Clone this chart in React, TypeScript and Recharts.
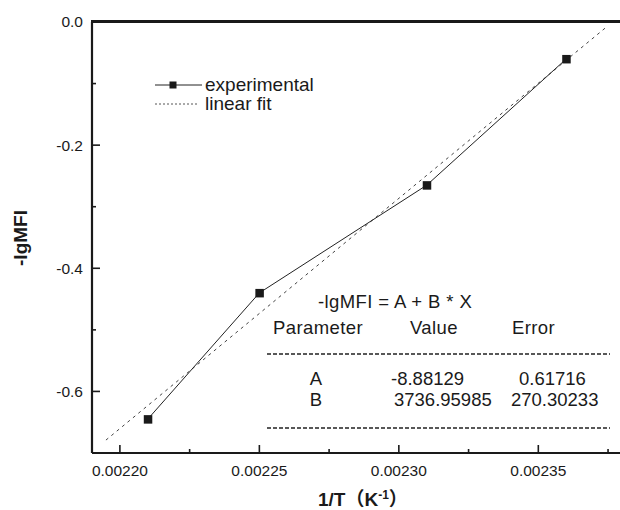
import React from 'react';
import { ComposedChart, Line, XAxis, YAxis } from 'recharts';

const expX = [0.00221, 0.00225, 0.00231, 0.00236];
const expY = [-0.645, -0.44, -0.265, -0.06];
const fitX = [0.002195, 0.002375];
const fitY = [-0.679, -0.006];
const xMajorTicks = [0.0022, 0.00225, 0.0023, 0.00235];
const xMinorTicks = [0.002225, 0.002275, 0.002325, 0.002375];
const yMajorTicks = [0, -0.2, -0.4, -0.6];
const yMinorTicks = [-0.1, -0.3, -0.5, -0.7];
const tableParams = ['A', 'B'];
const tableValues = ['-8.88129', '3736.95985'];
const tableErrors = ['0.61716', '270.30233'];

const expData = expX.map((x, i) => ({ x, y: expY[i] }));
const fitData = fitX.map((x, i) => ({ x, y: fitY[i] }));

const FONT = '"Liberation Sans", Arial, Helvetica, sans-serif';
const INK = '#1a1a1a';

const isIn = (arr: number[], v: number) => arr.some((a) => Math.abs(a - v) < 1e-9);

const XTick = (props: any) => {
  const { x, y, payload } = props;
  const major = isIn(xMajorTicks, payload.value);
  return (
    <g>
      <line x1={x} y1={y} x2={x} y2={y - (major ? 8 : 4)} stroke={INK} strokeWidth={1.6} />
      {major && (
        <text x={x} y={y + 23} textAnchor="middle" fontSize={15.5} fontFamily={FONT} fill={INK}>
          {payload.value.toFixed(5)}
        </text>
      )}
    </g>
  );
};

const YTick = (props: any) => {
  const { x, y, payload } = props;
  const major = isIn(yMajorTicks, payload.value);
  const v = payload.value;
  const label = Math.abs(v) < 1e-9 ? '0.0' : v.toFixed(1);
  return (
    <g>
      <line x1={x} y1={y} x2={x + (major ? 8 : 4)} y2={y} stroke={INK} strokeWidth={1.6} />
      {major && (
        <text x={x - 9} y={y} dy="0.35em" textAnchor="end" fontSize={15.5} fontFamily={FONT} fill={INK}>
          {label}
        </text>
      )}
    </g>
  );
};

const SquareDot = (props: any) => {
  const { cx, cy, index } = props;
  return <rect key={`sq-${index}`} x={cx - 4} y={cy - 4} width={8.5} height={8.5} fill="#1a1a1a" />;
};

export default function App() {
  return (
    <div
      style={{
        position: 'fixed',
        left: 0,
        top: 0,
        width: 620,
        height: 510,
        overflow: 'hidden',
        background: '#fff',
      }}
    >
      <ComposedChart width={640} height={510} margin={{ top: 21, right: 18, bottom: 0, left: 0 }}>
        <XAxis
          xAxisId="top"
          orientation="top"
          type="number"
          domain={[0.00219, 0.00238]}
          allowDataOverflow
          height={1}
          tick={false}
          tickLine={false}
          stroke={INK}
          axisLine={{ stroke: INK, strokeWidth: 2.2 }}
        />
        <XAxis
          type="number"
          dataKey="x"
          domain={[0.00219, 0.00238]}
          allowDataOverflow
          ticks={[...xMajorTicks, ...xMinorTicks]}
          interval={0}
          tickLine={false}
          tickSize={0}
          tickMargin={0}
          height={57}
          stroke={INK}
          axisLine={{ stroke: INK, strokeWidth: 2.2 }}
          tick={(p: any) => <XTick {...p} />}
        />
        <YAxis
          type="number"
          domain={[-0.7, 0]}
          allowDataOverflow
          ticks={[...yMajorTicks, ...yMinorTicks]}
          interval={0}
          width={92}
          tickLine={false}
          tickSize={0}
          tickMargin={0}
          stroke={INK}
          axisLine={{ stroke: INK, strokeWidth: 2.2 }}
          tick={(p: any) => <YTick {...p} />}
        />
        <Line
          data={fitData}
          dataKey="y"
          type="linear"
          stroke="#444"
          strokeWidth={1}
          strokeDasharray="3 4"
          dot={false}
          isAnimationActive={false}
        />
        <Line
          data={expData}
          dataKey="y"
          type="linear"
          stroke="#222"
          strokeWidth={1}
          dot={SquareDot}
          isAnimationActive={false}
        />
      </ComposedChart>
      <svg
        width={620}
        height={510}
        style={{ position: 'absolute', left: 0, top: 0, pointerEvents: 'none' }}
        fontFamily={FONT}
        fill={INK}
      >
        {/* top frame border */}
        <rect x={91} y={20} width={529} height={2.2} fill={INK} />

        {/* legend */}
        <line x1={155} y1={85} x2={202} y2={85} stroke="#222" strokeWidth={1} />
        <rect x={169.5} y={81.5} width={7} height={7} fill="#1a1a1a" />
        <text x={205} y={91} fontSize={19}>experimental</text>
        <line x1={155} y1={104} x2={199} y2={104} stroke="#555" strokeWidth={1} strokeDasharray="2 2" />
        <text x={205} y={110} fontSize={19}>linear fit</text>

        {/* axis titles */}
        <text
          transform="translate(27,238) rotate(-90)"
          textAnchor="middle"
          fontSize={19}
          fontWeight="bold"
        >
          -lgMFI
        </text>
        <text x={318} y={506} fontSize={19} fontWeight="bold" fontFamily={`${FONT}, "Noto Sans CJK SC"`}>
          1/T（K
          <tspan fontSize={12} dy={-7}>-1</tspan>
          <tspan dy={7}>）</tspan>
        </text>

        {/* fit table */}
        <text x={318} y={308} fontSize={18.5} letterSpacing={0.4}>-lgMFI = A + B * X</text>
        <text x={273} y={334} fontSize={18.5} letterSpacing={0.4}>Parameter</text>
        <text x={410} y={334} fontSize={18.5} letterSpacing={0.4}>Value</text>
        <text x={512} y={334} fontSize={18.5} letterSpacing={0.4}>Error</text>
        <line x1={267} y1={354} x2={610} y2={354} stroke="#222" strokeWidth={1.3} strokeDasharray="4 2" />
        {tableParams.map((p, i) => (
          <g key={p}>
            <text x={316} y={385 + i * 21} fontSize={18.5} textAnchor="middle">{p}</text>
            <text x={i === 0 ? 391 : 394} y={385 + i * 21} fontSize={18.5}>{tableValues[i]}</text>
            <text x={i === 0 ? 519 : 511} y={385 + i * 21} fontSize={18.5}>{tableErrors[i]}</text>
          </g>
        ))}
        <line x1={267} y1={428} x2={610} y2={428} stroke="#222" strokeWidth={1.3} strokeDasharray="4 2" />
      </svg>
    </div>
  );
}
